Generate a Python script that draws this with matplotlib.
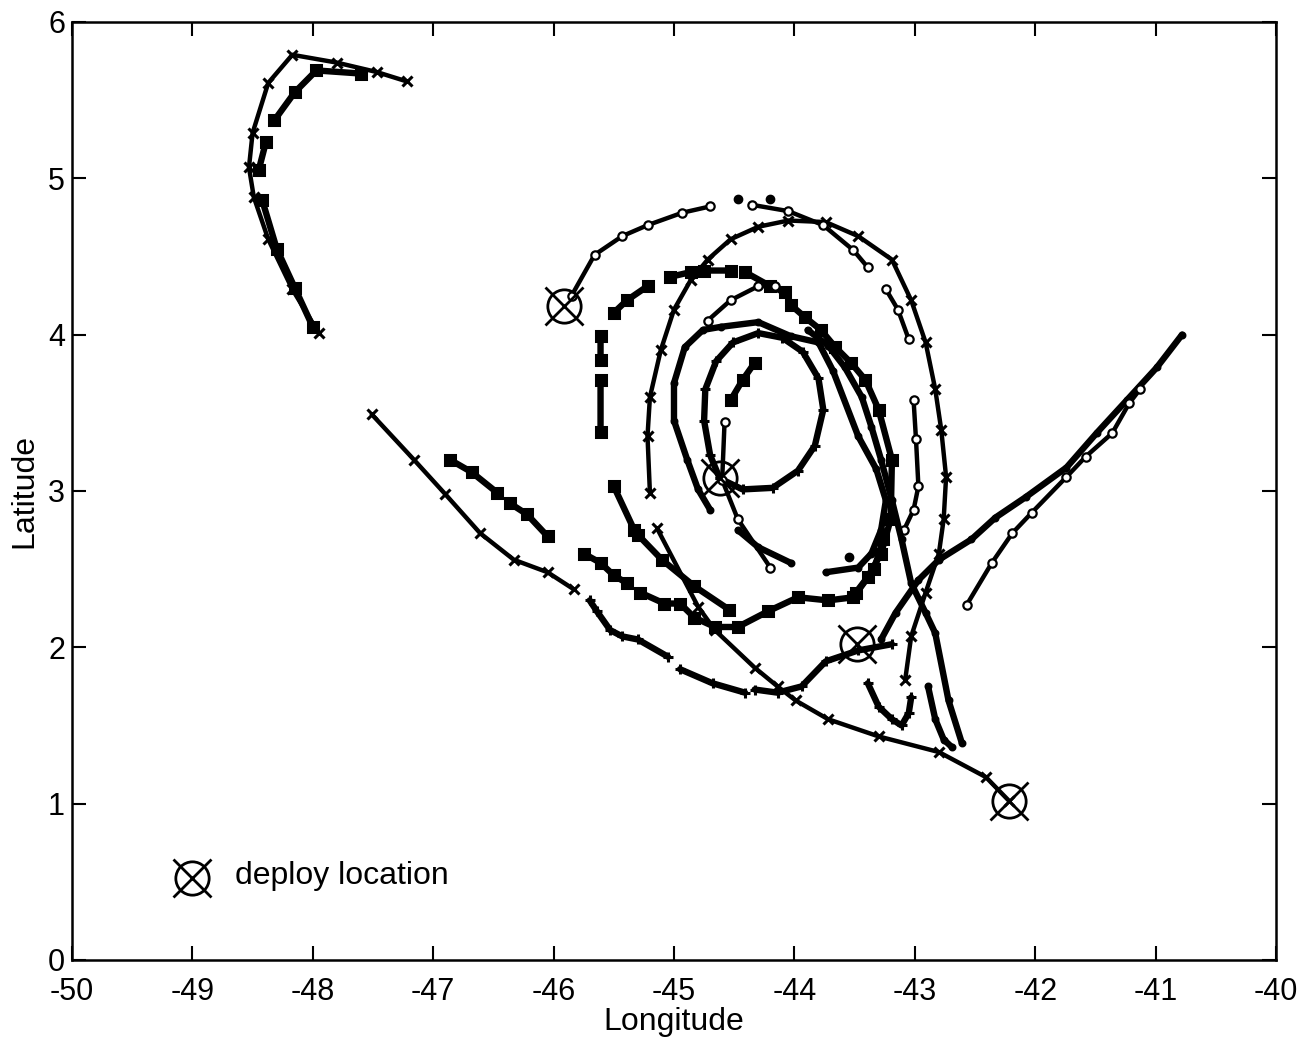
import numpy as np
import matplotlib
matplotlib.use('Agg')
import matplotlib.pyplot as plt

nan = np.nan

# drifter tracks (lon, lat); nan = gap in the record
nw_x_lon = [-47.22, -47.47, -47.8, -48.17, -48.37, -48.5, -48.53, -48.49, -48.37, -48.17, -47.95]
nw_x_lat = [5.62, 5.68, 5.74, 5.79, 5.61, 5.29, 5.07, 4.88, 4.61, 4.29, 4.01]

nw_sq_lon = [-47.6, -47.97, -48.15, -48.32, nan, -48.39, -48.45, nan, -48.42, -48.3, -48.15, -48.0]
nw_sq_lat = [5.67, 5.69, 5.55, 5.37, nan, 5.23, 5.05, nan, 4.86, 4.55, 4.3, 4.05]

west_x_lon = [-47.51, -47.16, -46.9, -46.61, -46.33, -46.05, -45.83]
west_x_lat = [3.49, 3.2, 2.98, 2.73, 2.56, 2.48, 2.37]

se_x_lon = [-42.22, -42.41, -42.8, -43.3, -43.72, -43.99, -44.14, -44.33, -44.66, -44.8, -45.14]
se_x_lat = [1.02, 1.17, 1.33, 1.43, 1.54, 1.66, 1.75, 1.87, 2.11, 2.26, 2.76]

wavy_lon = [-46.86, -46.68, -46.47, nan, -46.36, -46.22, -46.05, nan, -45.75, -45.61, -45.5, -45.39, nan,
            -45.28, -45.08, -44.95, -44.83, -44.66, -44.47, -44.22, -43.97, -43.72, -43.51, -43.34, -43.26]
wavy_lat = [3.2, 3.12, 2.99, nan, 2.92, 2.85, 2.71, nan, 2.6, 2.54, 2.46, 2.41, nan,
            2.35, 2.28, 2.28, 2.19, 2.13, 2.13, 2.23, 2.32, 2.3, 2.32, 2.5, 2.69]

low_lon = [-43.19, -43.47, -43.74, -43.94, -44.14, -44.33, nan, -44.41, -44.68, -44.95, nan,
           -45.05, -45.3, -45.43, -45.53, -45.64, -45.7]
low_lat = [2.02, 1.98, 1.91, 1.75, 1.71, 1.73, nan, 1.71, 1.77, 1.86, nan,
           1.94, 2.05, 2.07, 2.11, 2.23, 2.3]

ne_dot_lon = [-43.28, -43.16, -42.97, -42.8, -42.53, -42.33, -42.08, -41.74, -41.49, -41.24, -40.99, -40.78]
ne_dot_lat = [2.05, 2.22, 2.43, 2.56, 2.69, 2.83, 2.96, 3.15, 3.37, 3.58, 3.79, 4.0]

ne_o_lon = [-42.57, -42.36, -42.19, -42.03, -41.74, -41.58, -41.36, -41.22, -41.13]
ne_o_lat = [2.27, 2.54, 2.73, 2.86, 3.09, 3.22, 3.37, 3.56, 3.65]

inner_lon = [-44.62, -44.43, -44.18, -43.97, -43.83, -43.76, -43.8, -43.93, -44.1, -44.3, -44.51,
             -44.65, -44.74, -44.75, -44.7, -44.62]
inner_lat = [3.08, 3.01, 3.02, 3.13, 3.29, 3.52, 3.72, 3.89, 3.98, 4.01, 3.95,
             3.83, 3.65, 3.45, 3.23, 3.08]

big_x_lon = [-45.2, -45.22, -45.2, -45.11, -45.0, -44.86, -44.72, -44.53, -44.3, -44.05, -43.74,
             -43.47, -43.19, -43.03, -42.91, -42.83, -42.78, -42.74, -42.76, -42.8, -42.91, -43.03, -43.08]
big_x_lat = [2.99, 3.35, 3.6, 3.9, 4.16, 4.35, 4.48, 4.61, 4.69, 4.73, 4.72,
             4.63, 4.48, 4.22, 3.95, 3.65, 3.39, 3.09, 2.82, 2.6, 2.35, 2.07, 1.79]

outer_o_lon = [-45.85, -45.66, -45.43, -45.22, -44.93, -44.7, nan, -44.35, -44.05, -43.76, -43.51, -43.39,
               nan, -43.24, -43.14, -43.05, nan, -43.01, -42.99, -42.97, -43.01, -43.09]
outer_o_lat = [4.25, 4.51, 4.63, 4.7, 4.78, 4.82, nan, 4.83, 4.79, 4.7, 4.54, 4.43,
               nan, 4.29, 4.16, 3.97, nan, 3.58, 3.33, 3.03, 2.88, 2.75]

sq_loop_lon = [-45.5, -45.39, -45.22, nan, -45.03, -44.86, nan, -44.75, -44.53, nan, -44.41, -44.2, -44.08,
               nan, -44.03, -43.91, -43.78, -43.66, -43.53, -43.41, -43.3, -43.19, -43.2, -43.28, -43.39, -43.49]
sq_loop_lat = [4.14, 4.22, 4.31, nan, 4.37, 4.4, nan, 4.41, 4.41, nan, 4.4, 4.31, 4.27,
               nan, 4.19, 4.11, 4.03, 3.92, 3.82, 3.71, 3.52, 3.2, 2.82, 2.6, 2.45, 2.35]

sq_left_lon = [-45.61, -45.61, nan, -45.61, -45.61, nan, -45.5, -45.33, nan, -45.3, -45.1, -44.83, -44.54]
sq_left_lat = [3.99, 3.84, nan, 3.71, 3.38, nan, 3.03, 2.75, nan, 2.72, 2.56, 2.39, 2.24]

mid_lon = [-44.7, -44.8, -44.89, -45.0, -45.0, -44.91, -44.76, -44.61, -44.3, -44.03, -43.8, -43.68,
           -43.47, -43.32, -43.24, -43.28, -43.36, -43.47, -43.74, nan, -44.03, -44.3, -44.47]
mid_lat = [2.88, 3.01, 3.2, 3.45, 3.69, 3.92, 4.03, 4.05, 4.08, 3.99, 3.95, 3.77,
           3.35, 3.14, 2.94, 2.75, 2.6, 2.51, 2.48, nan, 2.54, 2.64, 2.75]

arc_o_lon = [-44.72, -44.53, -44.3, -44.16]
arc_o_lat = [4.09, 4.22, 4.31, 4.31]

long_lon = [-42.61, -42.72, -42.83, -42.91, -43.03, -43.11, -43.19, -43.28, -43.36, -43.44, -43.58, -43.72, -43.89]
long_lat = [1.39, 1.66, 2.09, 2.22, 2.41, 2.69, 2.94, 3.2, 3.41, 3.6, 3.79, 3.93, 4.03]

short_lon = [-42.89, -42.83, -42.76, -42.69]
short_lat = [1.75, 1.54, 1.41, 1.36]

hook_lon = [-43.39, -43.3, -43.19, -43.11, -43.05, -43.03]
hook_lat = [1.77, 1.62, 1.54, 1.5, 1.58, 1.68]

diag_lon = [-44.58, -44.6, -44.47, -44.2]
diag_lat = [3.44, 3.07, 2.82, 2.51]

stub_lon = [-44.53, -44.43, -44.33]
stub_lat = [3.58, 3.71, 3.82]

lone_lon = [-44.47, -44.2, -43.55]
lone_lat = [4.87, 4.87, 2.58]

deploy_lon = [-45.91, -44.62, -43.48, -42.22]
deploy_lat = [4.18, 3.08, 2.02, 1.02]

tracks = [
    (nw_x_lon, nw_x_lat, 'x'),
    (nw_sq_lon, nw_sq_lat, 's'),
    (west_x_lon, west_x_lat, 'x'),
    (se_x_lon, se_x_lat, 'x'),
    (wavy_lon, wavy_lat, 's'),
    (low_lon, low_lat, '+'),
    (ne_dot_lon, ne_dot_lat, '.'),
    (ne_o_lon, ne_o_lat, 'o'),
    (inner_lon, inner_lat, '+'),
    (big_x_lon, big_x_lat, 'x'),
    (outer_o_lon, outer_o_lat, 'o'),
    (sq_loop_lon, sq_loop_lat, 's'),
    (sq_left_lon, sq_left_lat, 's'),
    (mid_lon, mid_lat, '.'),
    (arc_o_lon, arc_o_lat, 'o'),
    (long_lon, long_lat, '.'),
    (short_lon, short_lat, '.'),
    (hook_lon, hook_lat, '+'),
    (diag_lon, diag_lat, 'o'),
    (stub_lon, stub_lat, 's'),
]

plt.rcParams['font.family'] = ['Liberation Sans', 'DejaVu Sans']
plt.rcParams['axes.unicode_minus'] = False

fig = plt.figure(figsize=(13.16, 10.51), dpi=100)
ax = fig.add_axes([0.0547, 0.0866, 0.9149, 0.8925])

for lon, lat, m in tracks:
    lw = 3.2 if m in ('x', 'o') else 4.6
    ax.plot(lon, lat, color='black', lw=lw, solid_capstyle='round')
    if m == 'o':
        ax.plot(lon, lat, ls='none', marker='o', ms=6, mfc='white', mec='black', mew=1.6)
    else:
        ax.plot(lon, lat, ls='none', marker=m, ms=7, color='black', mew=2.2)

ax.plot(lone_lon, lone_lat, ls='none', marker='o', ms=6, color='black')

# deploy symbols: circle with a cross through it
ax.plot(deploy_lon, deploy_lat, ls='none', marker='o', ms=24, mfc='none', mec='black', mew=2)
ax.plot(deploy_lon, deploy_lat, ls='none', marker='x', ms=28, color='black', mew=2)

# legend entry, drawn by hand
ax.plot([0.1, ], [0.087], transform=ax.transAxes, marker='o', ms=24, mfc='none', mec='black', mew=2)
ax.plot([0.1, ], [0.087], transform=ax.transAxes, marker='x', ms=28, color='black', mew=2)
ax.text(0.135, 0.09, 'deploy location', transform=ax.transAxes, fontsize=23, va='center', ha='left')

ax.set_xlim(-50, -40)
ax.set_ylim(0, 6)
ax.set_xticks(np.arange(-50, -39, 1))
ax.set_yticks(np.arange(0, 7, 1))
ax.tick_params(direction='in', length=10, width=1.5, labelsize=22, top=True, right=True)
ax.tick_params(axis='x', pad=12)
ax.tick_params(axis='y', pad=5)
for s in ax.spines.values():
    s.set_linewidth(1.8)

ax.set_xlabel('Longitude', fontsize=23, labelpad=0)
ax.set_ylabel('Latitude', fontsize=23, labelpad=6)

fig.savefig('out.png', dpi=100)
